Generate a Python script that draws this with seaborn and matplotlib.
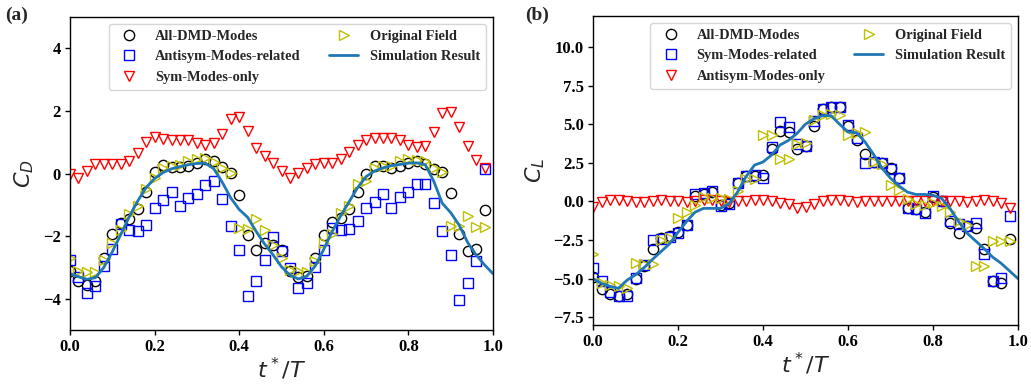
import matplotlib
matplotlib.use("Agg")
import matplotlib.pyplot as plt
import seaborn as sns
import pandas as pd
import numpy as np

# ---------------- data ----------------
t_pts = [0.00, 0.02, 0.04, 0.06, 0.08, 0.10, 0.12, 0.14, 0.16, 0.18,
         0.20, 0.22, 0.24, 0.26, 0.28, 0.30, 0.32, 0.34, 0.36, 0.38,
         0.40, 0.42, 0.44, 0.46, 0.48, 0.50, 0.52, 0.54, 0.56, 0.58,
         0.60, 0.62, 0.64, 0.66, 0.68, 0.70, 0.72, 0.74, 0.76, 0.78,
         0.80, 0.82, 0.84, 0.86, 0.88, 0.90, 0.92, 0.94, 0.96, 0.98]

t_line = t_pts + [1.00]

# Panel (a): drag coefficient
cd_all = [-3.10, -3.42, -3.55, -3.42, -2.70, -1.94, -1.58, -1.45, -1.15, -0.60,
          0.04, 0.26, 0.20, 0.20, 0.23, 0.34, 0.46, 0.40, 0.20, 0.02,
          -0.68, -1.95, -2.46, -2.22, -2.30, -2.45, -3.10, -3.30, -3.27, -2.71,
          -1.96, -1.55, -1.42, -1.14, -0.60, -0.03, 0.23, 0.23, 0.18, 0.23,
          0.34, 0.39, 0.29, 0.13, 0.06, -0.61, -1.94, -2.47, -2.41, -1.17]
cd_antisym = [-2.75, -3.30, -3.82, -3.58, -2.95, -2.40, -1.60, -1.81, -1.84, -1.66,
              -1.11, -0.85, -0.58, -1.05, -0.77, -0.65, -0.38, -0.24, -0.80, -1.67,
              -2.44, -3.90, -3.43, -2.75, -2.04, -2.47, -3.03, -3.67, -3.50, -2.98,
              -2.45, -1.75, -1.82, -1.77, -1.51, -1.10, -0.90, -0.65, -1.09, -0.75,
              -0.58, -0.35, -0.33, -0.95, -1.83, -2.60, -4.05, -3.49, -2.78, 0.15]
cd_sym = [0.00, -0.14, 0.07, 0.29, 0.31, 0.29, 0.31, 0.41, 0.66, 1.00,
          1.16, 1.10, 1.08, 1.06, 1.06, 0.97, 0.92, 0.97, 1.26, 1.75,
          1.79, 1.37, 0.81, 0.57, 0.34, 0.07, -0.14, 0.02, 0.18, 0.29,
          0.34, 0.34, 0.47, 0.68, 0.92, 1.08, 1.13, 1.15, 1.15, 1.08,
          0.92, 0.85, 0.89, 1.34, 1.93, 1.98, 1.50, 0.87, 0.42, 0.18]
cd_orig = [-2.70, -3.13, -3.16, -3.14, -2.77, -2.22, -1.80, -1.30, -1.04, -0.51,
           -0.15, 0.17, 0.23, 0.26, 0.39, 0.47, 0.50, 0.36, 0.18, 0.03,
           -1.73, -1.77, -1.45, -1.82, -2.30, -2.69, -3.07, -3.13, -3.16, -2.80,
           -2.22, -1.94, -1.25, -1.03, -0.35, -0.24, 0.18, 0.25, 0.25, 0.39,
           0.47, 0.44, 0.39, 0.18, 0.04, -1.67, -1.69, -1.35, -1.72, -1.72]
cd_sim = [-3.20, -3.30, -3.38, -3.33, -3.00, -2.50, -1.95, -1.38, -0.88, -0.45,
          -0.16, 0.03, 0.15, 0.22, 0.28, 0.32, 0.33, 0.15, -0.28, -0.78,
          -1.15, -1.40, -1.85, -2.25, -2.60, -2.98, -3.25, -3.37, -3.28, -2.95,
          -2.42, -1.85, -1.35, -0.90, -0.45, -0.10, 0.08, 0.18, 0.25, 0.29,
          0.33, 0.34, 0.28, -0.25, -0.95, -1.25, -1.65, -2.20, -2.60, -2.92,
          -3.20]

# Panel (b): lift coefficient
cl_all = [-4.90, -5.70, -6.00, -6.10, -6.00, -5.00, -4.20, -3.10, -2.40, -2.25,
          -2.00, -1.50, 0.35, 0.45, 0.60, -0.25, -0.10, 1.20, 1.65, 1.65,
          1.70, 3.40, 4.55, 4.50, 3.40, 3.60, 4.90, 6.00, 6.10, 6.10,
          4.90, 4.00, 3.05, 2.55, 2.50, 2.15, 1.50, -0.40, -0.50, -0.70,
          0.30, 0.00, -1.38, -2.02, -1.60, -1.70, -3.10, -5.15, -5.25, -2.45]
cl_sym = [-4.28, -5.15, -5.86, -6.12, -6.12, -4.98, -4.10, -2.48, -2.45, -2.30,
          -2.05, -1.52, 0.45, 0.53, 0.68, -0.30, -0.15, 1.21, 1.62, 1.70,
          1.50, 3.52, 5.12, 4.82, 3.70, 3.60, 5.20, 6.00, 6.14, 6.11,
          4.97, 4.11, 2.50, 2.55, 2.50, 2.07, 1.53, -0.41, -0.52, -0.73,
          0.34, 0.02, -1.27, -1.49, -1.59, -1.38, -3.42, -5.15, -4.93, -0.95]
cl_antisym = [-0.35, -0.05, 0.10, 0.10, 0.00, -0.05, -0.05, 0.05, 0.10, 0.05,
              0.00, -0.05, 0.00, 0.10, 0.10, 0.00, -0.05, 0.00, 0.05, 0.10,
              0.10, 0.05, -0.10, -0.20, -0.40, -0.35, -0.15, 0.05, 0.10, 0.10,
              0.00, -0.05, 0.00, 0.05, 0.05, 0.05, 0.05, 0.05, 0.00, 0.00,
              0.05, 0.05, 0.05, 0.00, -0.05, 0.05, 0.10, 0.05, -0.10, -0.40]
cl_orig = [-3.40, -5.25, -5.43, -5.47, -5.58, -3.96, -4.02, -4.07, -2.50, -2.40,
           -1.10, -0.70, -0.25, 0.30, 0.25, 0.20, 0.15, 0.70, 1.42, 1.46,
           4.33, 4.33, 2.76, 2.74, 3.70, 3.75, 5.25, 5.62, 5.68, 5.62,
           4.30, 4.40, 4.46, 2.52, 2.45, 1.03, 0.73, 0.17, -0.19, -0.26,
           -0.13, -0.30, -0.69, -1.27, -1.55, -4.18, -4.18, -2.56, -2.56, -2.56]
cl_sim = [-5.00, -5.30, -5.50, -5.62, -5.10, -4.75, -4.30, -3.75, -3.25, -2.75,
          -2.00, -1.30, -0.70, -0.45, -0.45, -0.45, -0.15, 0.60, 1.60, 2.35,
          2.55, 3.00, 3.65, 3.95, 4.40, 5.00, 5.35, 5.55, 5.55, 5.00,
          4.50, 4.45, 3.85, 3.05, 2.15, 1.50, 1.00, 0.60, 0.45, 0.45,
          0.40, 0.20, -0.45, -1.30, -2.05, -2.55, -3.05, -3.60, -4.00, -4.50,
          -5.00]

labels_a = ["All-DMD-Modes", "Antisym-Modes-related", "Sym-Modes-only",
            "Original Field", "Simulation Result"]
labels_b = ["All-DMD-Modes", "Sym-Modes-related", "Antisym-Modes-only",
            "Original Field", "Simulation Result"]

# ---------------- style ----------------
sns.set_style("ticks")
plt.rcParams["font.family"] = ["Liberation Serif", "DejaVu Serif"]
plt.rcParams["font.weight"] = "normal"
plt.rcParams["mathtext.fontset"] = "dejavusans"
plt.rcParams["axes.edgecolor"] = "black"
plt.rcParams["xtick.color"] = "black"
plt.rcParams["ytick.color"] = "black"
plt.rcParams["axes.linewidth"] = 1.0

fig = plt.figure(figsize=(10.31, 3.87), dpi=100)
ax_a = fig.add_axes([70 / 1031, (387 - 330) / 387, 423 / 1031, 313 / 387])
ax_b = fig.add_axes([593 / 1031, (387 - 325) / 387, 425 / 1031, 309 / 387])

MS = 7.4
MEW = 1.0


def draw_panel(ax, all_v, s_v, v_v, orig_v, sim_v, labels, ylim, yticks,
               yticklabels, ylabel):
    specs = [
        (all_v, "o", "black", labels[0]),
        (s_v, "s", "blue", labels[1]),
        (v_v, "v", "red", labels[2]),
        (orig_v, ">", "y", labels[3]),
    ]
    for vals, mk, col, lab in specs:
        df = pd.DataFrame({"t": t_pts, "v": vals})
        sns.lineplot(data=df, x="t", y="v", ax=ax, linestyle="none",
                     marker=mk, markersize=MS, markerfacecolor="none",
                     markeredgecolor=col, markeredgewidth=MEW, color=col,
                     label=lab, sort=False, estimator=None)
    df = pd.DataFrame({"t": t_line, "v": sim_v})
    sns.lineplot(data=df, x="t", y="v", ax=ax, color="#1f77b4", linewidth=2.0,
                 label=labels[4], sort=False, estimator=None)
    ax.set_xlim(0, 1)
    ax.set_ylim(*ylim)
    ax.set_xticks([0.0, 0.2, 0.4, 0.6, 0.8, 1.0])
    ax.set_xticklabels(["0.0", "0.2", "0.4", "0.6", "0.8", "1.0"],
                       fontweight="bold", fontsize=12)
    ax.set_yticks(yticks)
    ax.set_yticklabels(yticklabels, fontweight="bold", fontsize=12)
    ax.tick_params(direction="out", length=3.5, width=1, pad=3)
    ax.set_xlabel(r"$t^*/T$", fontsize=16, labelpad=1)
    ax.set_ylabel(ylabel, fontsize=16, labelpad=5)
    for sp in ax.spines.values():
        sp.set_visible(True)
        sp.set_color("black")
    ax.legend(loc="upper right", ncol=2, numpoints=1,
              prop={"weight": "bold", "size": 10.4,
                    "family": ["Liberation Serif"]})


draw_panel(ax_a, cd_all, cd_antisym, cd_sym, cd_orig, cd_sim, labels_a,
           (-5, 5), [-4, -2, 0, 2, 4],
           ["\u22124", "\u22122", "0", "2", "4"], r"$C_D$")

draw_panel(ax_b, cl_all, cl_sym, cl_antisym, cl_orig, cl_sim, labels_b,
           (-8, 12), [-7.5, -5.0, -2.5, 0.0, 2.5, 5.0, 7.5, 10.0],
           ["\u22127.5", "\u22125.0", "\u22122.5", "0.0", "2.5",
            "5.0", "7.5", "10.0"], r"$C_L$")

fig.text(5 / 1031, 1 - 15 / 387, "(a)", fontsize=14, fontweight="bold",
         va="center", ha="left")
fig.text(525 / 1031, 1 - 15 / 387, "(b)", fontsize=14, fontweight="bold",
         va="center", ha="left")

fig.savefig("out.png", dpi=100)
